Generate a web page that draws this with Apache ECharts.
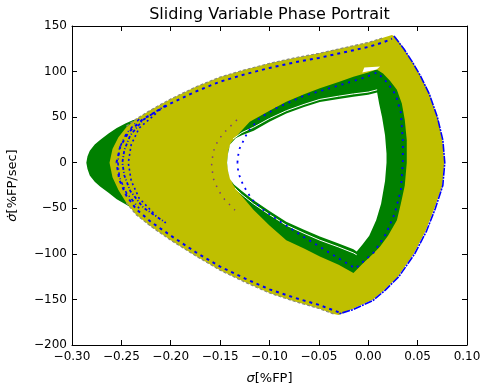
<!DOCTYPE html>
<html><head><meta charset="utf-8">
<script src="https://cdn.jsdelivr.net/npm/echarts@6/dist/echarts.min.js"></script>
<style>html,body{margin:0;padding:0;background:#fff}#c{width:482px;height:387px}</style>
</head><body><div id="c"></div>
<script>
// ---- data (sigma [%FP], sigma-dot [%FP/sec]) ----
const titleText = 'Sliding Variable Phase Portrait';
const xTickMin = -0.30, xTickMax = 0.10, xTickStep = 0.05;
const yTickMin = -200, yTickMax = 150, yTickStep = 50;

// green trajectories: left tip that sticks out of the yellow band
const greenTip = [[-0.2855,0],[-0.2843,7],[-0.282,13],[-0.277,20],[-0.2716,25],[-0.263,32],[-0.2547,38],[-0.246,43],[-0.238,47],
  [-0.215,45],[-0.215,-45],[-0.236,-52],[-0.245,-46],[-0.2547,-40],[-0.263,-33],[-0.2716,-26],[-0.277,-21],[-0.282,-14],[-0.2843,-7]];
// yellow trajectories: outer envelope
const yellowOuter = [[-0.262,0],[-0.259,15],[-0.253,28],[-0.245,39],[-0.235,48],[-0.22,58],[-0.20,70],[-0.175,83],[-0.15,94],
  [-0.125,102],[-0.10,109],[-0.075,115],[-0.05,120],[-0.025,126],[0.0,132],[0.015,137],[0.024,140],[0.028,138],
  [0.036,125],[0.045,110],[0.053,95],[0.062,75],[0.070,50],[0.075,25],[0.077,0],[0.075,-25],[0.067,-50],[0.058,-75],
  [0.046,-100],[0.030,-125],[0.016,-140],[0.005,-150],[-0.015,-160],[-0.030,-167],[-0.035,-166],[-0.05,-160],
  [-0.075,-152],[-0.10,-143],[-0.125,-131],[-0.15,-118],[-0.175,-102],[-0.20,-85],[-0.22,-70],[-0.235,-57],
  [-0.245,-44],[-0.253,-30],[-0.259,-16]];
// green trajectories visible inside the yellow ring
const greenInner = [[-0.143,0],[-0.1415,14],[-0.139,22],[-0.131,32],[-0.12,45],[-0.10,57],[-0.083,67],[-0.065,75],
  [-0.049,81.6],[-0.03,88.5],[-0.015,94.4],[0.0,99],[0.0085,102.4],[0.015,98],[0.022,90],[0.029,80],[0.034,65],
  [0.037,47],[0.039,25],[0.039,0],[0.037,-25],[0.033,-45],[0.029,-63],[0.020,-80],[0.012,-92],[0.005,-100],
  [-0.006,-111],[-0.015,-121],[-0.03,-112],[-0.049,-103],[-0.065,-94],[-0.083,-85],[-0.10,-69],[-0.116,-52],
  [-0.13,-34],[-0.137,-24],[-0.141,-12]];
// empty centre of the portrait
const hole = [[-0.143,0],[-0.142,10],[-0.140,20],[-0.134,27],[-0.128,30],[-0.116,35],[-0.10,45],[-0.083,54],
  [-0.065,61],[-0.049,66.5],[-0.03,70],[-0.015,72.4],[0.0,74.5],[0.009,77],[0.011,65],[0.014,50],[0.017,30],
  [0.0185,10],[0.0185,0],[0.017,-20],[0.013,-45],[0.008,-63],[0.001,-80],[-0.006,-90],[-0.0117,-97.5],
  [-0.015,-95],[-0.03,-88.5],[-0.049,-81],[-0.065,-73.5],[-0.083,-64.7],[-0.10,-53],[-0.1164,-41],[-0.128,-31],
  [-0.136,-24],[-0.140,-18],[-0.142,-9]];
const topSliver = [[-0.006,99],[-0.004,104.5],[0.012,105.5],[0.0085,102.4]];
const whiteTop = [[-0.137,26],[-0.128,33],[-0.116,39],[-0.10,48.5],[-0.083,57],[-0.065,64],[-0.049,69.5],[-0.03,73],[-0.015,75.5],[0.0,77.5],[0.009,80]];
const whiteBottom = [[-0.135,-28],[-0.128,-35],[-0.1164,-45],[-0.10,-57],[-0.083,-68.5],[-0.065,-77.5],[-0.049,-85],[-0.03,-92.5],[-0.015,-99],[-0.0117,-101]];
// blue dash-dot trajectories
const blueOuter = [[-0.255,0],[-0.251,18],[-0.243,33],[-0.228,48],[-0.20,65],[-0.175,78],[-0.15,89],[-0.125,97],
  [-0.10,104],[-0.075,110],[-0.05,115],[-0.025,121],[0.0,127],[0.015,132],[0.024,136]];
const blueOuterBottom = [[-0.030,-164],[-0.05,-156],[-0.075,-148],[-0.10,-139],[-0.125,-127],[-0.15,-114],
  [-0.175,-98],[-0.20,-80],[-0.22,-65],[-0.235,-51],[-0.245,-36],[-0.252,-19],[-0.255,0]];
const blueRight = [[0.026,139],[0.036,125],[0.045,110],[0.053,95],[0.062,75],[0.070,50],[0.0755,25],[0.0775,0],
  [0.0755,-25],[0.068,-50],[0.059,-75],[0.047,-100],[0.031,-125],[0.017,-140],[0.005,-151],[-0.015,-161],[-0.030,-166]];
const blueLeftA = [[-0.205,63],[-0.228,47],[-0.241,30],[-0.247,14],[-0.249,0],[-0.247,-14],[-0.241,-31],[-0.228,-49],[-0.205,-66]];
const blueLeftB = [[-0.215,54],[-0.232,38],[-0.240,20],[-0.243,0],[-0.240,-20],[-0.232,-39],[-0.215,-58]];
const blueLeftC = [[-0.232,48],[-0.245,32],[-0.252,16],[-0.2535,0],[-0.252,-16],[-0.245,-33],[-0.232,-50]];
const blueInner = [[-0.1325,0],[-0.131,14],[-0.126,25],[-0.122,34],[-0.11,49],[-0.093,60],[-0.066,73],[-0.035,83],
  [-0.005,93],[0.009,99],[0.02,87],[0.028,74],[0.033,55],[0.035,25],[0.035,0],[0.033,-30],[0.027,-55],[0.018,-78],
  [0.006,-98],[-0.013,-116],[-0.039,-99],[-0.066,-81],[-0.09,-64],[-0.106,-52],[-0.118,-40],[-0.1265,-25],[-0.1316,-11],[-0.1325,0]];
const dotCurve = [[-0.133,47],[-0.1434,36],[-0.152,25],[-0.157,12],[-0.1586,-2],[-0.157,-17],[-0.152,-30],[-0.145,-41],[-0.135,-52]];
const grayTop = [[-0.245,40],[-0.235,48],[-0.22,58],[-0.20,70],[-0.175,83],[-0.15,94],[-0.125,102],[-0.10,109],
  [-0.075,115],[-0.05,120],[-0.025,126],[0.0,132],[0.015,137]];
const grayBottom = [[-0.245,-44],[-0.235,-57],[-0.22,-70],[-0.20,-85],[-0.175,-102],[-0.15,-118],[-0.125,-131],
  [-0.10,-143],[-0.075,-152],[-0.05,-160],[-0.035,-166]];

// ---- chart ----
const GREEN = '#008000', YELLOW = '#bfbf00', BLUE = '#0000ff', FONT = 'DejaVu Sans';

function poly(pts, color, z) {
  return {type:'custom', z, silent:true, animation:false, clip:false,
    data:[pts[0]],
    renderItem:(params, api) => ({type:'polygon', shape:{points: pts.map(p => api.coord(p))}, style:{fill:color, stroke:null}})};
}
function line(pts, color, width, type, z) {
  return {type:'line', z, data:pts, symbol:'none', silent:true, animation:false,
    lineStyle:{color, width, type}};
}
const fmtX = v => Math.abs(v) < 1e-9 ? '0.00' : (v < 0 ? '\u2212' : '') + Math.abs(v).toFixed(2);
const fmtY = v => v < 0 ? '\u2212' + Math.abs(v) : String(v);

const axisCommon = {
  axisLine:{show:true, onZero:false, lineStyle:{color:'#000', width:1}},
  axisTick:{show:true, inside:true, length:5, lineStyle:{color:'#000'}},
  splitLine:{show:false}
};

const chart = echarts.init(document.getElementById('c'), null, {renderer:'canvas'});
chart.setOption({
  animation:false,
  backgroundColor:'#fff',
  grid:{left:72, right:15, top:26, bottom:42, containLabel:false, outerBoundsMode:'none'},
  graphic:[{type:'text', x:269.5, y:15, style:{text:titleText, fontSize:16, fontFamily:FONT, fill:'#000', align:'center', verticalAlign:'middle'}}],
  xAxis:[
    Object.assign({type:'value', position:'bottom', min:xTickMin, max:xTickMax, interval:xTickStep,
      name:'{i|σ}[%FP]', nameLocation:'middle', nameGap:27,
      nameTextStyle:{color:'#000', fontSize:13, fontFamily:FONT, rich:{i:{fontStyle:'italic', fontSize:13, fontFamily:FONT, color:'#000'}}},
      axisLabel:{formatter:fmtX, color:'#000', fontSize:12, fontFamily:FONT, margin:6}}, axisCommon),
    Object.assign({type:'value', position:'top', min:xTickMin, max:xTickMax, interval:xTickStep,
      axisLabel:{show:false}}, axisCommon)
  ],
  yAxis:[
    Object.assign({type:'value', position:'left', min:yTickMin, max:yTickMax, interval:yTickStep,
      name:'{i|σ̇}[%FP/sec]', nameLocation:'middle', nameGap:53, nameRotate:90,
      nameTextStyle:{color:'#000', fontSize:13, fontFamily:FONT, rich:{i:{fontStyle:'italic', fontSize:13, fontFamily:FONT, color:'#000'}}},
      axisLabel:{formatter:fmtY, color:'#000', fontSize:12, fontFamily:FONT, margin:5}}, axisCommon),
    Object.assign({type:'value', position:'right', min:yTickMin, max:yTickMax, interval:yTickStep,
      axisLabel:{show:false}}, axisCommon)
  ],
  series:[
    poly(greenTip, GREEN, 1),
    poly(yellowOuter, YELLOW, 2),
    poly(greenInner, GREEN, 3),
    poly(hole, '#ffffff', 4),
    poly(topSliver, '#ffffff', 4),
    line(whiteTop, '#ffffff', 1, 'solid', 5),
    line(whiteBottom, '#ffffff', 1, 'solid', 5),
    line(grayTop, '#8a8a78', 1.2, [3,2], 6),
    line(grayBottom, '#8a8a78', 1.2, [3,2], 6),
    line(blueOuter, BLUE, 2, [3,4], 7),
    line(blueOuterBottom, BLUE, 2, [3,4], 7),
    line(blueRight, BLUE, 1.6, [8,1,2,1], 7),
    line(blueLeftA, BLUE, 1.8, [3,2,1,2], 7),
    line(blueLeftB, BLUE, 1.6, [2,3], 7),
    line(blueLeftC, BLUE, 1.6, [3,3,1,3], 7),
    line(blueInner, BLUE, 1.8, [2,5], 7),
    line(dotCurve, '#7a3a7a', 1.5, [1.5,6], 7)
  ]
});
</script>
</body></html>
